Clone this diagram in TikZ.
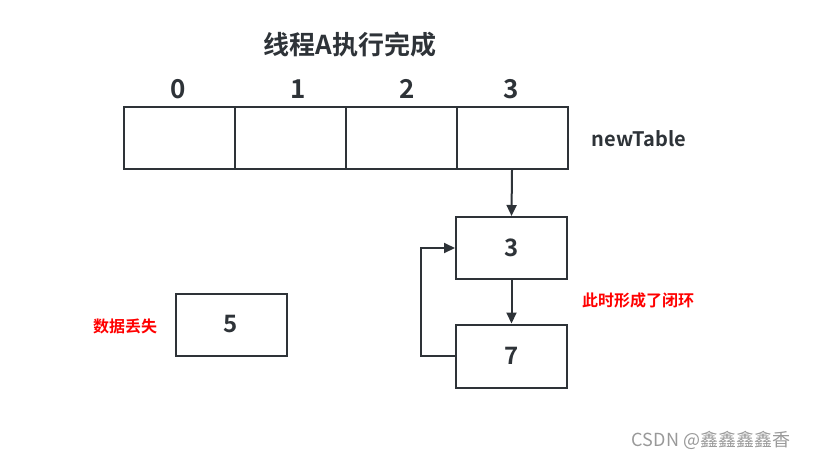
\documentclass[tikz,border=0pt]{standalone}
\usepackage{fontspec}
\setmainfont{Noto Sans CJK SC}
\newfontfamily\cjkbold{Noto Sans CJK SC Bold}
\usetikzlibrary{arrows.meta}

\definecolor{linegray}{HTML}{2E3338}

\begin{document}
\begin{tikzpicture}[x=1pt,y=-1pt,
    cell/.style={draw=linegray,line width=2pt,minimum width=111pt,minimum height=62pt,
      inner sep=0pt,font=\cjkbold\fontsize{24}{24}\selectfont,text=linegray},
    idx/.style={font=\cjkbold\fontsize{26}{26}\selectfont,text=linegray},
    link/.style={draw=linegray,line width=2pt,-{Triangle[length=11pt,width=10pt]}},
    note/.style={font=\cjkbold\fontsize{16}{16}\selectfont,text=red}]
  \useasboundingbox (0,0) rectangle (814,461);
  \node[font=\cjkbold\fontsize{26}{26}\selectfont,text=linegray] (title) at (350,45) {线程A执行完成};
  % table cells and their indices
  \foreach \i in {0,1,2,3} {
    \node[cell] (c\i) at (179+111*\i,138) {};
  }
  \foreach \i/\x in {0/178,1/298,2/407,3/511} {
    \node[idx] (i\i) at (\x,89) {\i};
  }
  \node[font=\cjkbold\fontsize{20}{20}\selectfont,text=linegray] (name) at (639,139) {newTable};
  % chained entries
  \node[cell] (b3) at (511.5,248) {3};
  \node[cell,minimum height=63pt] (b7) at (511.5,356) {7};
  \node[cell] (b5) at (231,324.5) {5};
  \draw[link] (c3.south) -- (b3.north);
  \draw[link] (b3.south) -- (b7.north);
  \draw[link] (b7.west) -- ++(-34,0) |- (b3.west);
  \node[note] (loop) at (638,300) {此时形成了闭环};
  \node[note] (lost) at (125,326) {数据丢失};
  \node[font=\fontsize{18}{18}\selectfont,text=black!40] (mark) at (711,440) {CSDN @鑫鑫鑫鑫香};
\end{tikzpicture}
\end{document}
